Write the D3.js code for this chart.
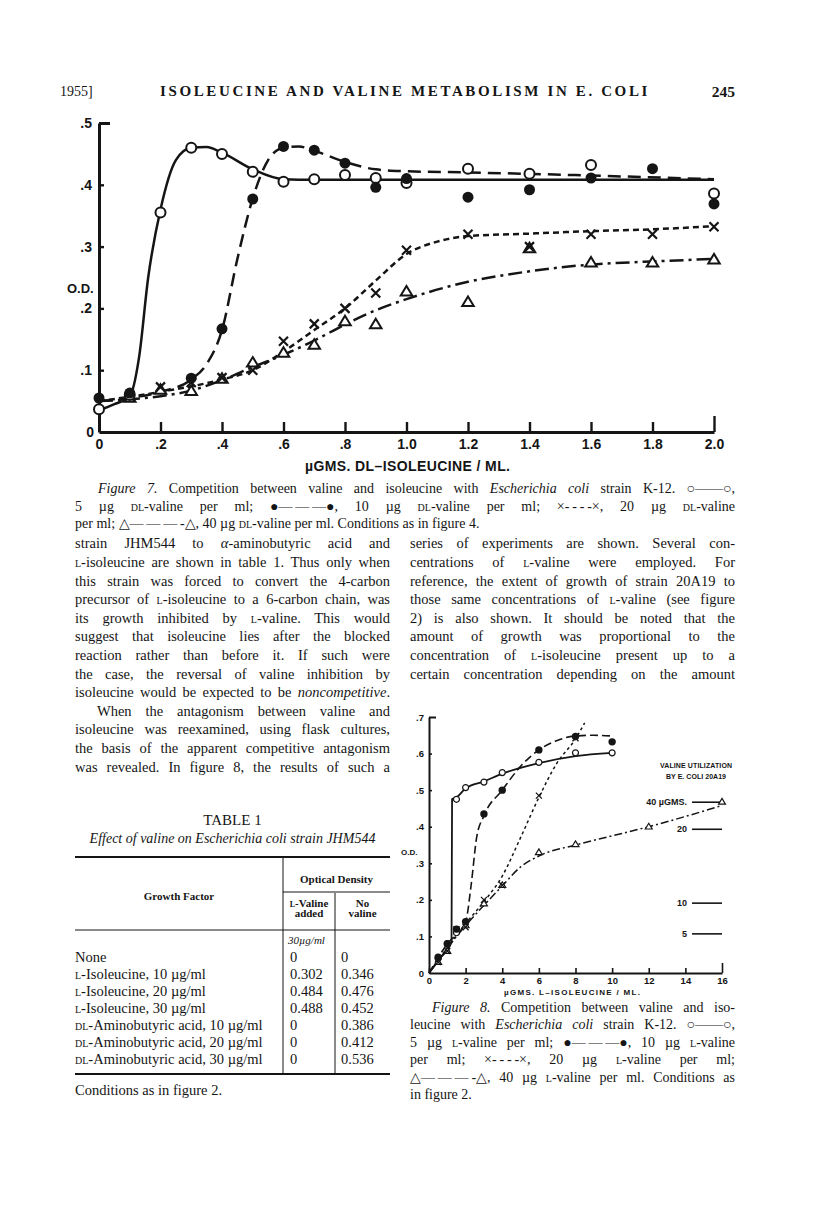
<!DOCTYPE html>
<html>
<head>
<meta charset="utf-8">
<script src="https://cdn.jsdelivr.net/npm/d3@7"></script>
<style>
body { margin: 0; background: #fff; }
#page { position: relative; width: 816px; height: 1230px; overflow: hidden;
        font-family: "Liberation Serif", "Times New Roman", serif; color: #151515; }
.ln { position: absolute; white-space: nowrap; }
.sc { font-variant: small-caps; }
svg { position: absolute; left: 0; top: 0; }
</style>
</head>
<body>
<div id="page"></div>
<script>
// ---- Figure 7 data (x = ugms DL-isoleucine / ml, y = O.D.) ----
var f7XTicks = [0, 0.2, 0.4, 0.6, 0.8, 1.0, 1.2, 1.4, 1.6, 1.8, 2.0];
var f7XLabels = ["0", ".2", ".4", ".6", ".8", "1.0", "1.2", "1.4", "1.6", "1.8", "2.0"];
var f7YTicks = [0, 0.1, 0.2, 0.3, 0.4, 0.5];
var f7YLabels = ["0", ".1", ".2", ".3", ".4", ".5"];

// 5 ug valine, open circles, solid line
var f7Open = [[0,0.037],[0.1,0.06],[0.2,0.355],[0.3,0.46],[0.4,0.45],[0.5,0.421],[0.6,0.405],[0.7,0.409],[0.8,0.416],[0.9,0.411],[1.0,0.403],[1.2,0.426],[1.4,0.418],[1.6,0.432],[2.0,0.386]];
var f7OpenCurve = [[0,0.035],[0.05,0.045],[0.1,0.058],[0.13,0.12],[0.16,0.25],[0.2,0.36],[0.25,0.44],[0.3,0.46],[0.35,0.461],[0.4,0.452],[0.5,0.425],[0.6,0.409],[0.7,0.408],[1.0,0.408],[2.0,0.408]];
// 10 ug valine, filled circles, long dashes
var f7Filled = [[0,0.055],[0.1,0.063],[0.3,0.087],[0.4,0.167],[0.5,0.377],[0.6,0.462],[0.7,0.456],[0.8,0.435],[0.9,0.396],[1.0,0.41],[1.2,0.38],[1.4,0.392],[1.6,0.411],[1.8,0.426],[2.0,0.369]];
var f7FilledCurve = [[0,0.05],[0.1,0.055],[0.2,0.065],[0.3,0.085],[0.35,0.11],[0.4,0.165],[0.45,0.28],[0.5,0.378],[0.55,0.44],[0.6,0.46],[0.65,0.462],[0.7,0.455],[0.8,0.437],[0.9,0.425],[1.0,0.422],[1.2,0.42],[1.6,0.415],[2.0,0.409]];
// 20 ug valine, crosses, short dashes
var f7Cross = [[0.1,0.058],[0.2,0.073],[0.3,0.08],[0.4,0.088],[0.5,0.1],[0.6,0.147],[0.7,0.175],[0.8,0.2],[0.9,0.225],[1.0,0.294],[1.2,0.32],[1.4,0.3],[1.6,0.32],[1.8,0.32],[2.0,0.332]];
var f7CrossCurve = [[0,0.05],[0.2,0.065],[0.4,0.085],[0.5,0.1],[0.6,0.13],[0.7,0.165],[0.8,0.2],[0.9,0.245],[1.0,0.288],[1.1,0.308],[1.2,0.317],[1.4,0.321],[1.6,0.325],[1.8,0.328],[2.0,0.333]];
// 40 ug valine, triangles, dash-dot
var f7Tri = [[0.1,0.055],[0.2,0.068],[0.3,0.066],[0.4,0.086],[0.5,0.112],[0.6,0.128],[0.7,0.141],[0.8,0.179],[0.9,0.174],[1.0,0.227],[1.2,0.21],[1.4,0.297],[1.6,0.274],[1.8,0.274],[2.0,0.279]];
var f7TriCurve = [[0,0.05],[0.2,0.058],[0.3,0.067],[0.4,0.084],[0.5,0.105],[0.6,0.125],[0.7,0.148],[0.8,0.174],[0.9,0.197],[1.0,0.215],[1.2,0.243],[1.4,0.26],[1.6,0.271],[1.8,0.276],[2.0,0.28]];

// ---- Figure 8 data (x = ugms L-isoleucine / ml, y = O.D.) ----
var f8XTicks = [0, 2, 4, 6, 8, 10, 12, 14, 16];
var f8YTicks = [0, 0.1, 0.2, 0.3, 0.4, 0.5, 0.6, 0.7];
var f8YLabels = ["0", ".1", ".2", ".3", ".4", ".5", ".6", ".7"];
var f8Open = [[0.5,0.04],[1,0.08],[1.5,0.11],[1.5,0.475],[2,0.507],[3,0.522],[4,0.548],[6,0.576],[8,0.602],[10,0.602]];
var f8OpenCurve = [[0,0],[0.6,0.04],[1.23,0.085],[1.26,0.475],[1.5,0.48],[2,0.505],[3,0.524],[4,0.545],[6,0.574],[8,0.593],[10,0.602]];
var f8Filled = [[0.5,0.043],[1,0.08],[1.5,0.12],[2,0.14],[3,0.435],[4,0.5],[6,0.61],[8,0.647],[10,0.632]];
var f8FilledCurve = [[0,0],[1,0.08],[2,0.14],[2.3,0.24],[2.6,0.37],[3,0.43],[4,0.5],[5,0.565],[6,0.61],[7,0.636],[8,0.648],[9,0.65],[10,0.648]];
var f8Cross = [[0.5,0.03],[1,0.06],[1.5,0.12],[2,0.125],[3,0.2],[4,0.24],[6,0.485],[8,0.642]];
var f8CrossCurve = [[0,0],[2,0.135],[3,0.195],[4,0.265],[5,0.37],[6,0.48],[7,0.575],[8,0.64],[8.5,0.684]];
var f8Tri = [[0.5,0.03],[1,0.06],[2,0.13],[3,0.19],[4,0.24],[6,0.33],[8,0.352],[12,0.4],[16,0.468]];
var f8TriCurve = [[0,0],[2,0.13],[3,0.185],[4,0.238],[5,0.29],[6,0.32],[8,0.35],[10,0.375],[12,0.4],[14,0.428],[16,0.458]];
// valine utilization by E. coli 20A19 (reference levels)
var f8RefLabels = ["40 \u00b5GMS.", "20", "10", "5"];
var f8RefOD = [0.467, 0.393, 0.191, 0.107];

// ---- Table 1 ----
var tabFactors = ["None", "<span class=sc>l</span>-Isoleucine, 10 \u00b5g/ml", "<span class=sc>l</span>-Isoleucine, 20 \u00b5g/ml",
  "<span class=sc>l</span>-Isoleucine, 30 \u00b5g/ml", "<span class=sc>dl</span>-Aminobutyric acid, 10 \u00b5g/ml",
  "<span class=sc>dl</span>-Aminobutyric acid, 20 \u00b5g/ml", "<span class=sc>dl</span>-Aminobutyric acid, 30 \u00b5g/ml"];
var tabValine = ["0", "0.302", "0.484", "0.488", "0", "0", "0"];
var tabNoValine = ["0", "0.346", "0.476", "0.452", "0.386", "0.412", "0.536"];

var page = d3.select("#page");

// one line of prose; y is the middle of the lower case letters
function addLine(x, y, w, html, o) {
  o = o || {};
  var fs = o.size || 14.5;
  var d = page.append("div").attr("class", "ln")
    .style("left", x + "px").style("top", (y - 0.59 * fs) + "px")
    .style("font-size", fs + "px").style("line-height", fs + "px")
    .html(html);
  if (o.italic) d.style("font-style", "italic");
  if (o.bold) d.style("font-weight", "bold");
  if (o.family) d.style("font-family", o.family);
  var node = d.node();
  var nat = node.getBoundingClientRect().width;
  if (o.justify) {
    var spaces = (node.textContent.match(/ /g) || []).length;
    if (spaces) d.style("word-spacing", ((w - nat) / spaces) + "px");
  } else if (o.fit) {
    var n = node.textContent.length;
    d.style("letter-spacing", ((w - nat) / n) + "px");
  } else if (o.align === "center") {
    d.style("left", (x + (w - nat) / 2) + "px");
  } else if (o.align === "right") {
    d.style("left", (x + w - nat) + "px");
  }
  return d;
}

// header
addLine(60, 93, 0, "1955]", {size: 14});
addLine(160, 93, 490, "ISOLEUCINE AND VALINE METABOLISM IN E. COLI", {size: 15, bold: true, fit: true});
addLine(600, 93, 135, "245", {size: 15.5, bold: true, align: "right"});

// figure 7 caption
var sc = function(t) { return "<span class=sc>" + t + "</span>"; };
addLine(98, 490, 637, "<i>Figure 7.</i> Competition between valine and isoleucine with <i>Escherichia coli</i> strain K-12. \u25cb\u2014\u2014\u25cb,", {size: 14, justify: true});
addLine(75, 508, 660, "5 \u00b5g " + sc("dl") + "-valine per ml; \u25cf\u2014\u2009\u2014\u2009\u2014\u25cf, 10 \u00b5g " + sc("dl") + "-valine per ml; \u00d7-\u2009-\u2009-\u2009-\u00d7, 20 \u00b5g " + sc("dl") + "-valine", {size: 14, justify: true});
addLine(75, 525, 660, "per ml; \u25b3\u2014\u2009\u2014\u2009\u2014\u2009-\u25b3, 40 \u00b5g " + sc("dl") + "-valine per ml. Conditions as in figure 4.", {size: 14});

// body text, left column
var leftLines = [
  "strain JHM544 to <i>\u03b1</i>-aminobutyric acid and",
  sc("l") + "-isoleucine are shown in table 1. Thus only when",
  "this strain was forced to convert the 4-carbon",
  "precursor of " + sc("l") + "-isoleucine to a 6-carbon chain, was",
  "its growth inhibited by " + sc("l") + "-valine. This would",
  "suggest that isoleucine lies after the blocked",
  "reaction rather than before it. If such were",
  "the case, the reversal of valine inhibition by",
  "isoleucine would be expected to be <i>noncompetitive</i>.",
  "When the antagonism between valine and",
  "isoleucine was reexamined, using flask cultures,",
  "the basis of the apparent competitive antagonism",
  "was revealed. In figure 8, the results of such a"
];
leftLines.forEach(function(t, i) {
  var ind = i === 9 ? 22 : 0;
  addLine(75 + ind, 545 + i * 18.6, 315 - ind, t, {justify: true});
});
var rightLines = [
  "series of experiments are shown. Several con-",
  "centrations of " + sc("l") + "-valine were employed. For",
  "reference, the extent of growth of strain 20A19 to",
  "those same concentrations of " + sc("l") + "-valine (see figure",
  "2) is also shown. It should be noted that the",
  "amount of growth was proportional to the",
  "concentration of " + sc("l") + "-isoleucine present up to a",
  "certain concentration depending on the amount"
];
rightLines.forEach(function(t, i) {
  addLine(410, 545 + i * 18.6, 325, t, {justify: true});
});

// table 1
addLine(75, 822, 315, "TABLE 1", {size: 15, align: "center"});
addLine(75, 840, 315, "<i>Effect of valine on Escherichia coli strain JHM544</i>", {size: 14, align: "center"});
addLine(283, 880, 107, "Optical Density", {size: 11, bold: true, align: "center"});
addLine(75, 897, 208, "Growth Factor", {size: 11, bold: true, align: "center"});
addLine(283, 904, 52, sc("l") + "-Valine", {size: 11, bold: true, align: "center"});
addLine(283, 914, 52, "added", {size: 11, bold: true, align: "center"});
addLine(335, 904, 55, "No", {size: 11, bold: true, align: "center"});
addLine(335, 914, 55, "valine", {size: 11, bold: true, align: "center"});
addLine(288, 941, 0, "<i>30\u00b5g/ml</i>", {size: 11});
tabFactors.forEach(function(t, i) {
  var y = 959 + i * 17;
  addLine(75, y, 0, t, {size: 14.5});
  addLine(290, y, 0, tabValine[i], {size: 14.5});
  addLine(341, y, 0, tabNoValine[i], {size: 14.5});
});
addLine(75, 1092, 0, "Conditions as in figure 2.", {size: 14.5});

// figure 8 caption
var f8Cap = [
  "<i>Figure 8.</i> Competition between valine and iso-",
  "leucine with <i>Escherichia coli</i> strain K-12. \u25cb\u2014\u2014\u25cb,",
  "5 \u00b5g " + sc("l") + "-valine per ml; \u25cf\u2014\u2009\u2014\u2009\u2014\u25cf, 10 \u00b5g " + sc("l") + "-valine",
  "per ml; \u00d7-\u2009-\u2009-\u2009-\u00d7, 20 \u00b5g " + sc("l") + "-valine per ml;",
  "\u25b3\u2014\u2009\u2014\u2009\u2014\u2009-\u25b3, 40 \u00b5g " + sc("l") + "-valine per ml. Conditions as",
  "in figure 2."
];
f8Cap.forEach(function(t, i) {
  var ind = i === 0 ? 22 : 0;
  addLine(410 + ind, 1009 + i * 17.5, 325 - ind, t, {size: 14, justify: i < 5});
});

// ---------- charts ----------
var svg = page.append("svg").attr("width", 816).attr("height", 1230);
var ink = "#151515";
var lab = "'Liberation Sans', Arial, sans-serif";

// table rules
var rules = svg.append("g").attr("stroke", ink);
rules.append("line").attr("x1", 75).attr("x2", 390).attr("y1", 857).attr("y2", 857).attr("stroke-width", 2);
rules.append("line").attr("x1", 283).attr("x2", 390).attr("y1", 892).attr("y2", 892).attr("stroke-width", 1);
rules.append("line").attr("x1", 75).attr("x2", 390).attr("y1", 930).attr("y2", 930).attr("stroke-width", 1);
rules.append("line").attr("x1", 75).attr("x2", 390).attr("y1", 1074).attr("y2", 1074).attr("stroke-width", 2);
rules.append("line").attr("x1", 283).attr("x2", 283).attr("y1", 857).attr("y2", 1074).attr("stroke-width", 1);
rules.append("line").attr("x1", 335).attr("x2", 335).attr("y1", 893).attr("y2", 1074).attr("stroke-width", 1);

function styleAxis(g, fs, sw) {
  g.attr("font-family", lab).attr("font-size", fs).attr("font-weight", "bold");
  g.select(".domain").attr("stroke", ink).attr("stroke-width", sw);
  g.selectAll(".tick line").attr("stroke", ink).attr("stroke-width", sw * 0.8);
  g.selectAll(".tick text").attr("fill", ink);
}

function marks(g, data, kind, xs, ys, r, sw) {
  var sel = g.append("g").selectAll("g").data(data).join("g")
    .attr("transform", function(d) { return "translate(" + xs(d[0]) + "," + ys(d[1]) + ")"; });
  if (kind === "open") {
    sel.append("circle").attr("r", r).attr("fill", "#fff").attr("stroke", ink).attr("stroke-width", sw);
  } else if (kind === "filled") {
    sel.append("circle").attr("r", r + 0.5).attr("fill", ink);
  } else if (kind === "cross") {
    sel.append("path").attr("d", "M" + -r + "," + -r + "L" + r + "," + r + "M" + -r + "," + r + "L" + r + "," + -r)
      .attr("stroke", ink).attr("stroke-width", sw);
  } else {
    var h = r * 1.9, s = r * 1.15;
    sel.append("path").attr("d", "M0," + (-h * 0.6) + "L" + s + "," + (h * 0.4) + "L" + -s + "," + (h * 0.4) + "Z")
      .attr("fill", "#fff").attr("stroke", ink).attr("stroke-width", sw);
  }
}

function curve(g, data, xs, ys, dash, sw) {
  var line = d3.line().x(function(d) { return xs(d[0]); }).y(function(d) { return ys(d[1]); })
    .curve(d3.curveMonotoneX);
  g.append("path").attr("d", line(data)).attr("fill", "none").attr("stroke", ink)
    .attr("stroke-width", sw).attr("stroke-dasharray", dash).attr("stroke-linecap", "butt");
}

// ---- Figure 7 ----
var x7 = d3.scaleLinear().domain([0, 2]).range([99, 714]);
var y7 = d3.scaleLinear().domain([0, 0.5]).range([432, 123]);
var g7 = svg.append("g");

var xAxis7 = g7.append("g").attr("transform", "translate(0,432)")
  .call(d3.axisBottom(x7).tickValues(f7XTicks).tickFormat(function(d, i) { return f7XLabels[i]; })
    .tickSizeInner(-10).tickSizeOuter(0).tickPadding(7));
styleAxis(xAxis7, 14, 3);
xAxis7.selectAll(".tick").filter(function(d) { return d === 2; }).select("line").attr("y2", -16);

var yAxis7 = g7.append("g").attr("transform", "translate(99,0)")
  .call(d3.axisLeft(y7).tickValues(f7YTicks).tickFormat(function(d, i) { return f7YLabels[i]; })
    .tickSizeInner(-5).tickSizeOuter(0).tickPadding(7));
styleAxis(yAxis7, 14, 3);
yAxis7.selectAll(".tick").filter(function(d) { return d === 0; }).select("line").remove();
yAxis7.selectAll(".tick").filter(function(d) { return d === 0.5; }).select("line").attr("x2", 11).attr("stroke-width", 3);
yAxis7.selectAll(".tick").filter(function(d) { return d === 0; }).select("text").attr("x", -5);

g7.append("text").attr("x", 67).attr("y", 293).attr("font-family", lab).attr("font-weight", "bold")
  .attr("font-size", 13).attr("fill", ink).text("O.D.");
g7.append("text").attr("x", 305).attr("y", 471).attr("font-family", lab).attr("font-weight", "bold")
  .attr("font-size", 14).attr("fill", ink).attr("textLength", 205).attr("lengthAdjust", "spacing")
  .text("\u00b5GMS. DL\u2013ISOLEUCINE / ML.");

curve(g7, f7OpenCurve, x7, y7, null, 2.5);
curve(g7, f7FilledCurve, x7, y7, "13,7", 2.5);
curve(g7, f7CrossCurve, x7, y7, "6,4", 2.5);
curve(g7, f7TriCurve, x7, y7, "14,5,3,5", 2.5);
marks(g7, f7Tri, "tri", x7, y7, 5, 2);
marks(g7, f7Cross, "cross", x7, y7, 4.5, 2.2);
marks(g7, f7Open, "open", x7, y7, 5, 2);
marks(g7, f7Filled, "filled", x7, y7, 5, 2);

// ---- Figure 8 ----
var x8 = d3.scaleLinear().domain([0, 16]).range([429, 722]);
var y8 = d3.scaleLinear().domain([0, 0.7]).range([973, 717]);
var g8 = svg.append("g");

var xAxis8 = g8.append("g").attr("transform", "translate(0,973)")
  .call(d3.axisBottom(x8).tickValues(f8XTicks).tickSizeInner(-5).tickSizeOuter(0).tickPadding(4));
styleAxis(xAxis8, 9.5, 2);
xAxis8.selectAll(".tick").filter(function(d) { return d === 16; }).select("line").attr("y2", -10);

var yAxis8 = g8.append("g").attr("transform", "translate(429,0)")
  .call(d3.axisLeft(y8).tickValues(f8YTicks).tickFormat(function(d, i) { return f8YLabels[i]; })
    .tickSizeInner(-3).tickSizeOuter(0).tickPadding(5));
styleAxis(yAxis8, 9.5, 2);
yAxis8.selectAll(".tick").filter(function(d) { return d === 0; }).select("line").remove();
yAxis8.selectAll(".tick").filter(function(d) { return d === 0.7; }).select("line").attr("x2", 7).attr("stroke-width", 2);

g8.append("text").attr("x", 401).attr("y", 855).attr("font-family", lab).attr("font-weight", "bold")
  .attr("font-size", 8).attr("fill", ink).text("O.D.");
g8.append("text").attr("x", 504).attr("y", 995).attr("font-family", lab).attr("font-weight", "bold")
  .attr("font-size", 8).attr("fill", ink).attr("textLength", 136).attr("lengthAdjust", "spacing")
  .text("\u00b5GMS. L\u2013ISOLEUCINE / ML.");

// legend
g8.append("text").attr("x", 660).attr("y", 768).attr("font-family", lab).attr("font-weight", "bold")
  .attr("font-size", 7).attr("fill", ink).attr("textLength", 72).attr("lengthAdjust", "spacing")
  .text("VALINE UTILIZATION");
g8.append("text").attr("x", 666).attr("y", 779).attr("font-family", lab).attr("font-weight", "bold")
  .attr("font-size", 7).attr("fill", ink).attr("textLength", 60).attr("lengthAdjust", "spacing")
  .text("BY E. COLI 20A19");
var ref = g8.append("g").selectAll("g").data(f8RefOD).join("g")
  .attr("transform", function(d) { return "translate(0," + y8(d) + ")"; });
ref.append("line").attr("x1", 692).attr("x2", 722).attr("stroke", ink).attr("stroke-width", 1.6);
ref.append("text").attr("x", 687).attr("dy", "0.35em").attr("text-anchor", "end")
  .attr("font-family", lab).attr("font-weight", "bold").attr("font-size", 9).attr("fill", ink)
  .text(function(d, i) { return f8RefLabels[i]; });

curve(g8, f8OpenCurve, x8, y8, null, 1.8);
curve(g8, f8FilledCurve, x8, y8, "8,4", 1.6);
curve(g8, f8CrossCurve, x8, y8, "3,3", 1.5);
curve(g8, f8TriCurve, x8, y8, "8,3,2,3", 1.5);
marks(g8, f8Tri, "tri", x8, y8, 3, 1.2);
marks(g8, f8Cross, "cross", x8, y8, 3, 1.3);
marks(g8, f8Open, "open", x8, y8, 3, 1.2);
marks(g8, f8Filled, "filled", x8, y8, 3.2, 1.2);
</script>
</body>
</html>
